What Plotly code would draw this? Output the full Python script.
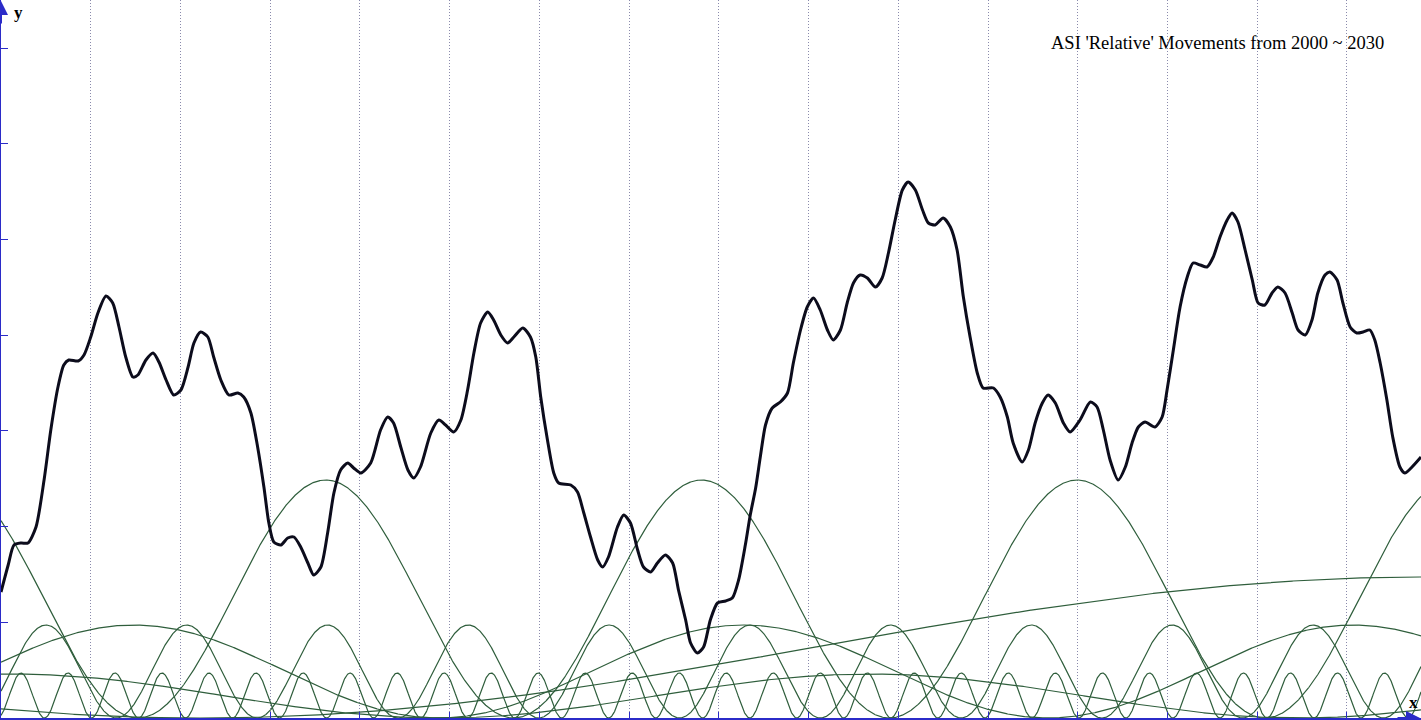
import numpy as np
import plotly.graph_objects as go

# ---- composite ("relative movement") curve ----
years = [2000.00, 2000.16, 2000.29, 2000.45, 2000.60, 2000.78, 2000.96, 2001.11, 2001.27, 2001.40,
         2001.51, 2001.72, 2001.85, 2002.00, 2002.16, 2002.34, 2002.49, 2002.63, 2002.78, 2002.94,
         2003.05, 2003.23, 2003.39, 2003.52, 2003.68, 2003.85, 2004.01, 2004.17, 2004.30, 2004.45,
         2004.61, 2004.74, 2004.90, 2005.08, 2005.28, 2005.41, 2005.57, 2005.72, 2005.86, 2005.97,
         2006.08, 2006.24, 2006.39, 2006.53, 2006.68, 2006.84, 2006.97, 2007.13, 2007.28, 2007.42,
         2007.57, 2007.73, 2007.86, 2008.02, 2008.24, 2008.46, 2008.62, 2008.75, 2008.91, 2009.07,
         2009.20, 2009.35, 2009.58, 2009.76, 2009.91, 2010.09, 2010.25, 2010.40, 2010.54, 2010.69,
         2010.85, 2010.98, 2011.14, 2011.29, 2011.43, 2011.63, 2011.80, 2011.92, 2012.03, 2012.18,
         2012.32, 2012.43, 2012.70, 2012.85, 2012.99, 2013.14, 2013.30, 2013.41, 2013.54, 2013.74,
         2013.88, 2014.03, 2014.19, 2014.32, 2014.48, 2014.63, 2014.81, 2014.97, 2015.10, 2015.26,
         2015.37, 2015.52, 2015.66, 2015.81, 2015.97, 2016.15, 2016.30, 2016.44, 2016.59, 2016.70,
         2016.82, 2016.93, 2017.04, 2017.19, 2017.37, 2017.53, 2017.66, 2017.82, 2017.97, 2018.11,
         2018.26, 2018.42, 2018.55, 2018.71, 2018.86, 2019.00, 2019.15, 2019.31, 2019.49, 2019.64,
         2019.78, 2019.93, 2020.09, 2020.22, 2020.38, 2020.54, 2020.67, 2020.82, 2021.00, 2021.16,
         2021.31, 2021.45, 2021.60, 2021.76, 2021.89, 2022.12, 2022.27, 2022.43, 2022.56, 2022.76,
         2022.90, 2023.05, 2023.21, 2023.34, 2023.50, 2023.68, 2023.83, 2024.05, 2024.28, 2024.43,
         2024.57, 2024.72, 2024.90, 2025.06, 2025.21, 2025.35, 2025.50, 2025.72, 2025.88, 2025.99,
         2026.13, 2026.28, 2026.44, 2026.57, 2026.73, 2026.88, 2027.02, 2027.17, 2027.33, 2027.44,
         2027.57, 2027.73, 2027.89, 2028.02, 2028.17, 2028.33, 2028.46, 2028.62, 2028.78, 2028.91,
         2029.07, 2029.22, 2029.35, 2029.51, 2029.62, 2029.78, 2029.91, 2030.07, 2030.22, 2030.36,
         2030.51, 2030.62, 2030.74, 2030.89, 2031.02, 2031.18, 2031.29, 2031.45, 2031.65]
levels = [126, 153, 173, 175, 175, 191, 238, 288, 331, 353,
          358, 357, 363, 381, 405, 422, 415, 391, 361, 341,
          343, 358, 365, 356, 338, 323, 328, 351, 375, 386,
          381, 361, 338, 323, 325, 321, 305, 271, 231, 195,
          176, 173, 180, 181, 171, 155, 143, 151, 185, 225,
          248, 255, 250, 245, 255, 288, 301, 295, 271, 248,
          240, 251, 285, 298, 293, 286, 298, 328, 365, 395,
          406, 398, 383, 375, 381, 390, 381, 361, 321, 278,
          245, 235, 233, 226, 205, 181, 158, 151, 161, 191,
          203, 195, 168, 151, 146, 155, 163, 155, 128, 98,
          75, 65, 71, 98, 115, 117, 120, 138, 173, 203,
          230, 263, 293, 310, 316, 325, 355, 388, 411, 420,
          408, 388, 378, 388, 415, 435, 443, 440, 431, 440,
          465, 498, 528, 536, 528, 508, 495, 493, 500, 491,
          468, 421, 381, 345, 330, 330, 321, 301, 275, 256,
          268, 295, 315, 323, 315, 295, 286, 298, 316, 311,
          288, 258, 238, 251, 275, 291, 296, 291, 301, 328,
          368, 411, 441, 455, 453, 451, 461, 481, 498, 505,
          496, 468, 438, 415, 413, 425, 431, 425, 405, 388,
          383, 398, 425, 443, 446, 438, 415, 391, 385, 386,
          388, 378, 355, 318, 281, 251, 245, 251, 261]

# ---- individual cycles (period in years, a crest date, crest height) ----
cycle_periods = [1.048, 3.138, 8.374, 13.586, 54.57, 19.15]
cycle_crests = [2000.445, 2001.002, 2007.238, 2002.962, 2031.74, 2000.22]
cycle_heights = [45, 93, 238, 93, 141, 44]

grid_years = [2002, 2004, 2006, 2008, 2010, 2012, 2014, 2016,
              2018, 2020, 2022, 2024, 2026, 2028, 2030]

title_text = "ASI 'Relative' Movements from 2000 ~ 2030"

X_MIN, X_MAX = 2000.0, 2031.65
Y_MAX = 718
AXIS_BLUE = "#2b2bc8"
GREEN = "#2f5e3c"

fig = go.Figure()

t = np.linspace(X_MIN, X_MAX, 4000)
for p, c, h in zip(cycle_periods, cycle_crests, cycle_heights):
    v = h * (1 + np.cos(2 * np.pi * (t - c) / p)) / 2
    fig.add_trace(go.Scatter(x=t, y=v, mode="lines",
                             line=dict(color=GREEN, width=1.2),
                             hoverinfo="skip", showlegend=False))

fig.add_trace(go.Scatter(x=years, y=levels, mode="lines",
                         line=dict(color="#0c0c1c", width=3, shape="spline", smoothing=0.7),
                         showlegend=False))

fig.update_layout(
    width=1421, height=720,
    margin=dict(l=1, r=0, t=0, b=2),
    paper_bgcolor="white", plot_bgcolor="white",
    showlegend=False,
    xaxis=dict(range=[X_MIN, X_MAX], tickvals=grid_years, showticklabels=False,
               showgrid=True, gridcolor="#8a8aac", griddash="1px,2px", gridwidth=1,
               ticks="inside", ticklen=6, tickcolor=AXIS_BLUE, tickwidth=1,
               showline=True, linecolor=AXIS_BLUE, linewidth=2, zeroline=False),
    yaxis=dict(range=[0, Y_MAX], tick0=0, dtick=95.7, showticklabels=False,
               showgrid=False, ticks="inside", ticklen=7, tickcolor=AXIS_BLUE, tickwidth=1,
               showline=True, linecolor=AXIS_BLUE, linewidth=2, zeroline=False),
    font=dict(family="Liberation Serif", color="black"),
)

fig.add_annotation(text=title_text, xref="paper", yref="paper", x=0.857, y=0.94,
                   xanchor="center", yanchor="middle",
                   showarrow=False, font=dict(family="Liberation Serif", size=18.5, color="black"))
fig.add_annotation(text="<b>y</b>", xref="paper", yref="paper", x=0.012, y=0.983,
                   xanchor="center", yanchor="middle",
                   showarrow=False, font=dict(family="Liberation Serif", size=17, color="black"))
fig.add_annotation(text="<b>x</b>", xref="paper", yref="paper", x=0.9944, y=0.021,
                   xanchor="center", yanchor="middle",
                   showarrow=False, font=dict(family="Liberation Serif", size=17, color="black"))
# axis arrow heads
fig.add_annotation(text="", xref="paper", yref="paper", x=0, y=1, ax=0, ay=25,
                   showarrow=True, arrowhead=2, arrowsize=1.4, arrowwidth=2, arrowcolor=AXIS_BLUE)
fig.add_annotation(text="", xref="paper", yref="paper", x=1, y=0, ax=-25, ay=0,
                   showarrow=True, arrowhead=2, arrowsize=1.4, arrowwidth=2, arrowcolor=AXIS_BLUE)

fig.write_html("out.html", config={"displayModeBar": False},
               post_script="document.body.style.margin='0';document.body.style.overflow='hidden';")
